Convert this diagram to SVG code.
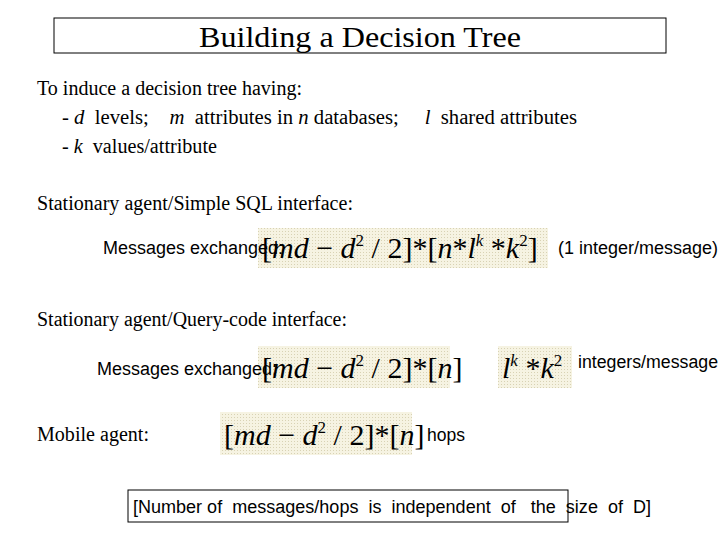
<svg xmlns="http://www.w3.org/2000/svg" width="720" height="540" viewBox="0 0 720 540">
<defs>
<pattern id="dots" width="3" height="3" patternUnits="userSpaceOnUse"><rect width="3" height="3" fill="#f6f3e2"/><rect width="1" height="1" fill="#d8d2b4"/></pattern>
</defs>
<style>
.s{font-family:"Liberation Serif",serif;font-size:20px;fill:#000}
.a{font-family:"Liberation Sans",sans-serif;font-size:18px;fill:#000}
.f{font-family:"Liberation Serif",serif;font-size:30px;fill:#000}
.i{font-style:italic}
.fb{fill:url(#dots)}
</style>
<rect width="720" height="540" fill="#fff"/>
<g id="title"><rect x="54" y="18" width="612" height="35" fill="#fff" stroke="#000" stroke-width="1"/>
<text x="199" y="47" textLength="322" lengthAdjust="spacingAndGlyphs" style="font-family:'Liberation Serif',serif;font-size:30px">Building a Decision Tree</text></g>
<g id="intro">
<text class="s" x="37" y="95" textLength="265" lengthAdjust="spacingAndGlyphs">To induce a decision tree having:</text>
<text class="s" x="62" y="124" xml:space="preserve" textLength="515" lengthAdjust="spacingAndGlyphs">- <tspan class="i">d</tspan>  levels;    <tspan class="i">m</tspan>  attributes in <tspan class="i">n</tspan> databases;     <tspan class="i">l</tspan>  shared attributes</text>
<text class="s" x="62" y="153" xml:space="preserve" textLength="155" lengthAdjust="spacingAndGlyphs">- <tspan class="i">k</tspan>  values/attribute</text>
</g>
<g id="sql">
<text class="s" x="37" y="210" textLength="316" lengthAdjust="spacingAndGlyphs">Stationary agent/Simple SQL interface:</text>
<rect class="fb" x="258" y="228" width="290" height="40"/>
<text class="f" x="262" y="258">[<tspan class="i">md</tspan> − <tspan class="i">d</tspan><tspan font-size="17" dy="-12">2</tspan><tspan dy="12"> / 2]*[</tspan><tspan class="i">n</tspan>*<tspan class="i">l</tspan><tspan class="i" font-size="17" dy="-12">k</tspan><tspan dy="12"> *</tspan><tspan class="i">k</tspan><tspan font-size="17" dy="-12">2</tspan><tspan dy="12">]</tspan></text>
<text class="a" x="103" y="254" textLength="180" lengthAdjust="spacingAndGlyphs">Messages exchanged:</text>
<text class="a" x="558" y="254" textLength="160" lengthAdjust="spacingAndGlyphs">(1 integer/message)</text>
</g>
<g id="query">
<text class="s" x="37" y="326" textLength="310" lengthAdjust="spacingAndGlyphs">Stationary agent/Query-code interface:</text>
<rect class="fb" x="258" y="346" width="192" height="42"/>
<text class="f" x="262" y="378">[<tspan class="i">md</tspan> − <tspan class="i">d</tspan><tspan font-size="17" dy="-12">2</tspan><tspan dy="12"> / 2]*[</tspan><tspan class="i">n</tspan>]</text>
<text class="a" x="97" y="375" textLength="180" lengthAdjust="spacingAndGlyphs">Messages exchanged:</text>
<rect class="fb" x="498" y="346" width="74" height="42"/>
<text class="f" x="502" y="378"><tspan class="i">l</tspan><tspan class="i" font-size="17" dy="-12">k</tspan><tspan dy="12"> *</tspan><tspan class="i">k</tspan><tspan font-size="17" dy="-12">2</tspan></text>
<text class="a" x="578" y="368" textLength="140" lengthAdjust="spacingAndGlyphs">integers/message</text>
</g>
<g id="mobile">
<text class="s" x="37" y="441" textLength="112" lengthAdjust="spacingAndGlyphs">Mobile agent:</text>
<rect class="fb" x="220" y="412" width="192" height="43"/>
<text class="f" x="224" y="445">[<tspan class="i">md</tspan> − <tspan class="i">d</tspan><tspan font-size="17" dy="-12">2</tspan><tspan dy="12"> / 2]*[</tspan><tspan class="i">n</tspan>]</text>
<text class="a" x="427" y="441" textLength="38" lengthAdjust="spacingAndGlyphs">hops</text>
</g>
<g id="note">
<rect x="128" y="490" width="440" height="32" fill="none" stroke="#000" stroke-width="1"/>
<text class="a" x="133" y="513" xml:space="preserve" textLength="518" lengthAdjust="spacingAndGlyphs">[Number of  messages/hops  is  independent  of   the  size  of  D]</text>
</g>
</svg>
